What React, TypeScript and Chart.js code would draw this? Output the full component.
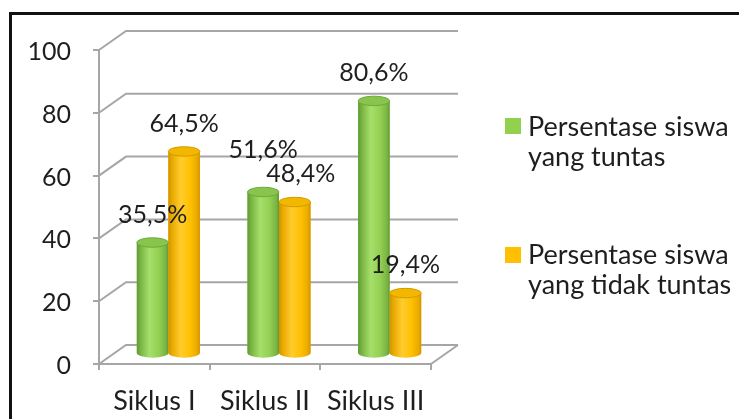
import React, { useEffect, useRef } from 'react';
import { Chart, registerables } from 'chart.js';

Chart.register(...registerables);

const categories = ['Siklus I', 'Siklus II', 'Siklus III'];
const tuntasValues = [35.5, 51.6, 80.6];
const tidakTuntasValues = [64.5, 48.4, 19.4];
const seriesLabels = ['Persentase siswa yang tuntas', 'Persentase siswa yang tidak tuntas'];
const legendLines = [
  ['Persentase siswa', 'yang tuntas'],
  ['Persentase siswa', 'yang tidak tuntas'],
];
const yMin = 0;
const yMax = 100;
const yStep = 20;

const FONT = 'Lato, "Open Sans", sans-serif';
const TEXT = '#1e1e1e';
const GREEN = '#92D050';
const ORANGE = '#FFC000';
const GRID = '#a6a6a6';
const DX = 27; // back wall depth offset
const DY = 19;
const BX = 14; // bar plane depth offset
const BY = 10;

const palettes = [
  { edge: '#5e9a33', dark: '#79b443', light: '#a6df6a', mid: '#93d052', top: '#88c54c', rim: '#6fa83c' },
  { edge: '#cf9300', dark: '#e8aa00', light: '#ffcc2e', mid: '#ffc000', top: '#f4b700', rim: '#d29a00' },
];

const fmt = (v: number) => v.toFixed(1).replace('.', ',') + '%';

const depthPlugin = {
  id: 'depth3d',
  beforeDatasetsDraw(chart: any) {
    const { ctx, chartArea: a, scales } = chart;
    const y = scales.y;
    ctx.save();
    ctx.strokeStyle = GRID;
    ctx.lineWidth = 2;
    for (let v = yMin; v <= yMax; v += yStep) {
      const py = y.getPixelForValue(v);
      ctx.beginPath();
      ctx.moveTo(a.left, py);
      ctx.lineTo(a.left + DX, py - DY);
      ctx.lineTo(a.right + DX, py - DY);
      ctx.stroke();
    }
    const pb = y.getPixelForValue(yMin);
    ctx.beginPath();
    ctx.moveTo(a.right, pb);
    ctx.lineTo(a.right + DX, pb - DY);
    ctx.stroke();
    ctx.restore();
    ctx.save();
    ctx.translate(BX, -BY);
  },
  afterDatasetsDraw(chart: any) {
    const ctx = chart.ctx;
    const byCat: any[][] = [];
    chart.data.datasets.forEach((ds: any, i: number) => {
      const meta = chart.getDatasetMeta(i);
      const pal = palettes[i];
      meta.data.forEach((el: any, j: number) => {
        const { x, y, base, width } = el.getProps(['x', 'y', 'base', 'width'], true);
        const left = x - width / 2;
        const right = x + width / 2;
        const ry = width * 0.15;
        const g = ctx.createLinearGradient(left, 0, right, 0);
        g.addColorStop(0, pal.edge);
        g.addColorStop(0.12, pal.dark);
        g.addColorStop(0.4, pal.light);
        g.addColorStop(0.7, pal.mid);
        g.addColorStop(0.92, pal.dark);
        g.addColorStop(1, pal.edge);
        ctx.beginPath();
        ctx.moveTo(left, y);
        ctx.lineTo(left, base);
        ctx.ellipse(x, base, width / 2, ry, 0, Math.PI, 0, true);
        ctx.lineTo(right, y);
        ctx.closePath();
        ctx.fillStyle = g;
        ctx.fill();
        ctx.beginPath();
        ctx.ellipse(x, y, width / 2, ry, 0, 0, Math.PI * 2);
        ctx.fillStyle = pal.top;
        ctx.fill();
        ctx.strokeStyle = pal.rim;
        ctx.lineWidth = 1;
        ctx.stroke();
        (byCat[j] = byCat[j] || []).push({ x: x + BX, y: y - BY - 28, text: fmt(ds.data[j]) });
      });
    });
    ctx.restore();
    // avoid overlapping labels within a category: push the higher one up
    byCat.forEach((arr) => {
      if (arr && arr.length === 2) {
        const [a, b] = arr;
        if (Math.abs(a.y - b.y) < 24) {
          if (a.y <= b.y) { a.y = b.y - 24; b.x += 6; } else { b.y = a.y - 24; a.x -= 6; }
        }
      }
    });
    ctx.save();
    ctx.font = `25px ${FONT}`;
    ctx.fillStyle = TEXT;
    ctx.textAlign = 'center';
    ctx.textBaseline = 'middle';
    byCat.forEach((arr) => arr && arr.forEach((l: any) => ctx.fillText(l.text, l.x, l.y)));
    ctx.restore();
  },
};

function ChartCanvas() {
  const ref = useRef<HTMLCanvasElement | null>(null);
  useEffect(() => {
    if (!ref.current) return;
    const chart = new Chart(ref.current, {
      type: 'bar',
      data: {
        labels: categories,
        datasets: [
          { label: seriesLabels[0], data: tuntasValues, backgroundColor: GREEN, borderWidth: 0 },
          { label: seriesLabels[1], data: tidakTuntasValues, backgroundColor: ORANGE, borderWidth: 0 },
        ],
      },
      options: {
        animation: false,
        responsive: true,
        maintainAspectRatio: false,
        layout: { padding: { top: 50, right: 308, left: 0, bottom: 0 } },
        plugins: { legend: { display: false }, tooltip: { enabled: false } },
        datasets: { bar: { categoryPercentage: 0.57, barPercentage: 1 } },
        scales: {
          x: {
            grid: { display: true, drawOnChartArea: false, drawTicks: true, tickLength: 6, color: GRID, lineWidth: 2, offset: true },
            border: { display: true, color: GRID, width: 2 },
            ticks: { font: { family: FONT, size: 27 }, color: TEXT, padding: 15, maxRotation: 0 },
            afterFit: (s: any) => { s.height = 55; },
          },
          y: {
            min: yMin,
            max: yMax,
            ticks: { stepSize: yStep, font: { family: FONT, size: 25 }, color: TEXT, padding: 22, labelOffset: 2 },
            grid: { display: true, drawOnChartArea: false, drawTicks: true, tickLength: 6, color: GRID, lineWidth: 2 },
            border: { display: true, color: GRID, width: 2 },
            afterFit: (s: any) => { s.width = 99; },
          },
        },
      },
      plugins: [depthPlugin],
    } as any);
    return () => chart.destroy();
  }, []);
  return <canvas ref={ref} />;
}

export default function App() {
  const colors = [GREEN, ORANGE];
  return (
    <div style={{ position: 'fixed', left: 0, top: 0, width: 739, height: 419, overflow: 'hidden', background: '#fff' }}>
      <div style={{ position: 'absolute', left: 9, top: 12, width: 1000, height: 1000, borderLeft: '3px solid #111', borderTop: '3px solid #111' }} />
      <div style={{ position: 'absolute', left: 0, top: 0, width: 739, height: 419 }}>
        <ChartCanvas />
      </div>
      {legendLines.map((lines, i) => (
        <React.Fragment key={i}>
          <div style={{ position: 'absolute', left: 505, top: 118 + i * 129, width: 16, height: 16, background: colors[i] }} />
          <div style={{ position: 'absolute', left: 528, top: 111 + i * 128, font: `27px ${FONT}`, lineHeight: '30px', color: TEXT, whiteSpace: 'nowrap' }}>
            {lines.map((t, k) => (<div key={k}>{t}</div>))}
          </div>
        </React.Fragment>
      ))}
    </div>
  );
}
